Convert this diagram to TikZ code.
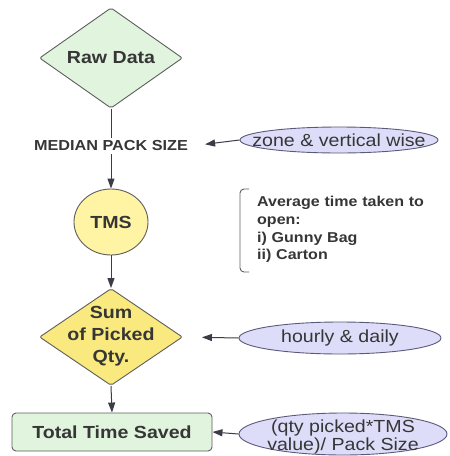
\documentclass[tikz,border=0pt]{standalone}
\usepackage{fontspec}
\setmainfont[FakeStretch=1.12]{Liberation Sans}
\usetikzlibrary{shapes.geometric,arrows.meta}
\definecolor{ink}{HTML}{363636}
\definecolor{edge}{HTML}{5E5E5E}
\definecolor{greenfill}{HTML}{E1F5DE}
\definecolor{yellowlight}{HTML}{FFF4A3}
\definecolor{yellowdia}{HTML}{F9E97E}
\definecolor{lav}{HTML}{DEDDF9}
\definecolor{lavedge}{HTML}{5A5A7A}
\definecolor{arrowc}{HTML}{3C3C48}
\tikzset{
  big/.style={font=\fontsize{17.5}{19}\selectfont, text=ink},
  bigb/.style={font=\bfseries\fontsize{17.5}{22}\selectfont, text=ink},
  dia/.style={diamond, draw=edge, line width=0.9pt, inner sep=0pt, minimum width=143pt, minimum height=97pt, rounded corners=2pt},
  oval/.style={ellipse, draw=lavedge, fill=lav, line width=0.9pt, inner sep=0pt},
  conn/.style={draw=arrowc, line width=1pt},
  arr/.style={conn, -{Triangle[length=10pt,width=7pt]}},
}
\begin{document}
\begin{tikzpicture}[x=1pt,y=-1pt]
\useasboundingbox (0,0) rectangle (450,456);
\fill[white] (0,0) rectangle (450,456);
\clip (0,0) rectangle (450,456);

% main column
\node[dia, fill=greenfill, bigb] (raw) at (111,58) {Raw Data};
\node[font=\bfseries\fontsize{14.5}{16}\selectfont, text=ink, inner sep=3pt] (median) at (111,146) {MEDIAN PACK SIZE};
\node[ellipse, draw=edge, fill=yellowlight, line width=0.9pt, minimum width=74pt, minimum height=66pt, inner sep=0pt, bigb] (tms) at (111,222) {TMS};
\node[dia, fill=yellowdia] (sum) at (111,337) {};
\node[bigb, align=center, inner sep=0pt] (sumt) at (111,336) {Sum\\of Picked\\Qty.};
\node[draw=edge, fill=greenfill, line width=0.9pt, rounded corners=4pt, minimum width=200pt, minimum height=38pt, inner sep=0pt, bigb] (total) at (112,432) {Total Time Saved};

% side ovals
\node[oval, minimum width=198pt, minimum height=26pt] (zone) at (339,140) {};
\node[big, inner sep=0pt] (zonet) at (339,140) {zone \& vertical wise};
\node[oval, minimum width=202pt, minimum height=32pt] (hourly) at (340,338) {};
\node[big, inner sep=0pt] (hourlyt) at (340,338) {hourly \& daily};
\node[oval, minimum width=208pt, minimum height=42pt] (formula) at (343,434) {};
\node[inner sep=0pt, align=center, font=\fontsize{17.5}{18}\selectfont, text=ink] (formulat) at (343,437) {(qty picked*TMS\\value)/ Pack Size};

% note with bracket
\node[anchor=north west, inner sep=0pt, text width=190pt, align=left, font=\bfseries\fontsize{14.3}{17.8}\selectfont, text=ink] (note) at (257,196) {Average time taken to\\open:\\i) Gunny Bag\\ii) Carton};
\draw[edge, line width=0.9pt, rounded corners=4pt] (249,189) -- (240,189) -- (240,272) -- (249,272);

% connectors
\draw[conn] (raw.south) -- (median.north);
\draw[arr] (median.south) -- (tms.north);
\draw[arr] (tms.south) -- (sum.north);
\draw[arr] (sum.south) -- (total.north);
\draw[arr, shorten >=14pt] (zone.west) -- (median.east);
\draw[arr, shorten >=19pt] (hourly.west) -- (sum.east);
\draw[arr] (formula.west) -- (total.east);
\end{tikzpicture}
\end{document}
